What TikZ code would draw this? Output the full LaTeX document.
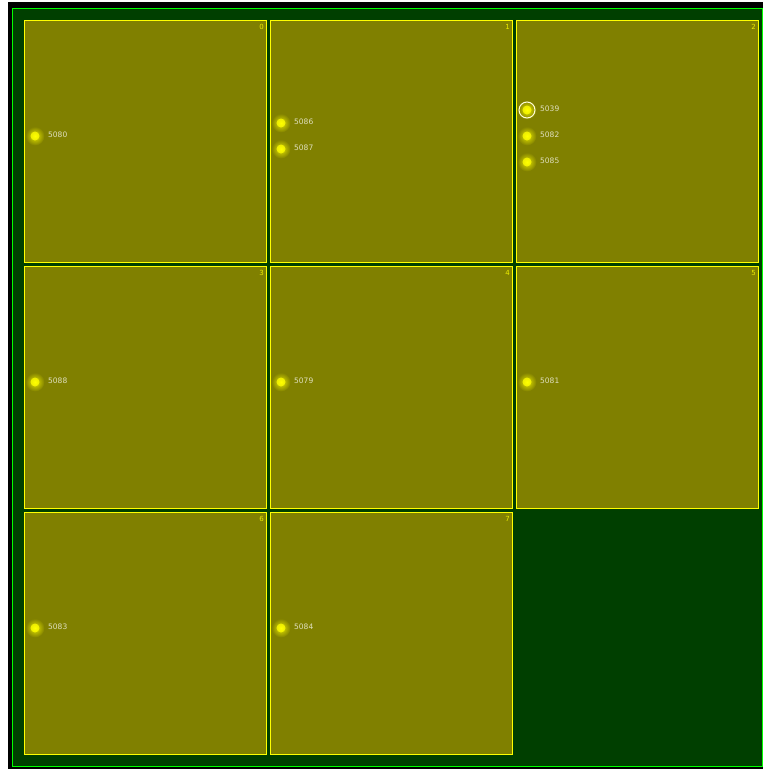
\documentclass[tikz,border=0pt]{standalone}
\usepackage{fontspec}
\setmainfont{DejaVu Sans}
\definecolor{bgdark}{HTML}{003F00}
\definecolor{frame}{HTML}{00FF00}
\definecolor{cellfill}{HTML}{808000}
\definecolor{celledge}{HTML}{FFFF00}
\definecolor{labeltext}{HTML}{E0E0C0}
\begin{document}
\begin{tikzpicture}[x=1pt,y=-1pt,
  cellbox/.style={draw=celledge, fill=cellfill, line width=1pt},
  cellnum/.style={text=celledge!85!cellfill, font=\fontsize{7}{8}\selectfont, anchor=north east, inner sep=0pt},
  ptlabel/.style={text=labeltext, font=\fontsize{7.5}{9}\selectfont, anchor=west, inner sep=0pt},
  glowdot/.style={circle, minimum size=19pt, inner sep=0pt, inner color=celledge!80!cellfill, outer color=cellfill},
  coredot/.style={circle, minimum size=9pt, inner sep=0pt, inner color=celledge, outer color=celledge!85!cellfill},
  ring/.style={circle, minimum size=16pt, inner sep=0pt, draw=white!85!yellow, line width=1pt}
]
\useasboundingbox (0,0) rectangle (763,769);
\fill[white] (0,0) rectangle (763,769);
\fill[black] (8,2) rectangle (763,769);
\draw[frame, fill=bgdark, line width=1pt] (12.5,8.5) rectangle (762.5,766.5);
% cells
\foreach \i/\cx/\cy in {0/24/20,1/270/20,2/516/20,3/24/266,4/270/266,5/516/266,6/24/512,7/270/512}{
  \draw[cellbox] (\cx+0.5,\cy+0.5) rectangle (\cx+242.5,\cy+242.5);
  \node[cellnum] (n\i) at (\cx+240,\cy+4) {\i};
}
% points
\foreach \name/\px/\py/\lab in {a/35/136/5080,b/281/123/5086,c/281/149/5087,d/527/110/5039,e/527/136/5082,f/527/162/5085,g/35/382/5088,h/281/382/5079,k/527/382/5081,m/35/628/5083,p/281/628/5084}{
  \node[glowdot] (g\name) at (\px,\py) {};
  \node[coredot] (c\name) at (\px,\py) {};
  \node[ptlabel] (l\name) at (\px+13,\py-1.5) {\lab};
}
\node[ring] (rd) at (cd) {};
\end{tikzpicture}
\end{document}
